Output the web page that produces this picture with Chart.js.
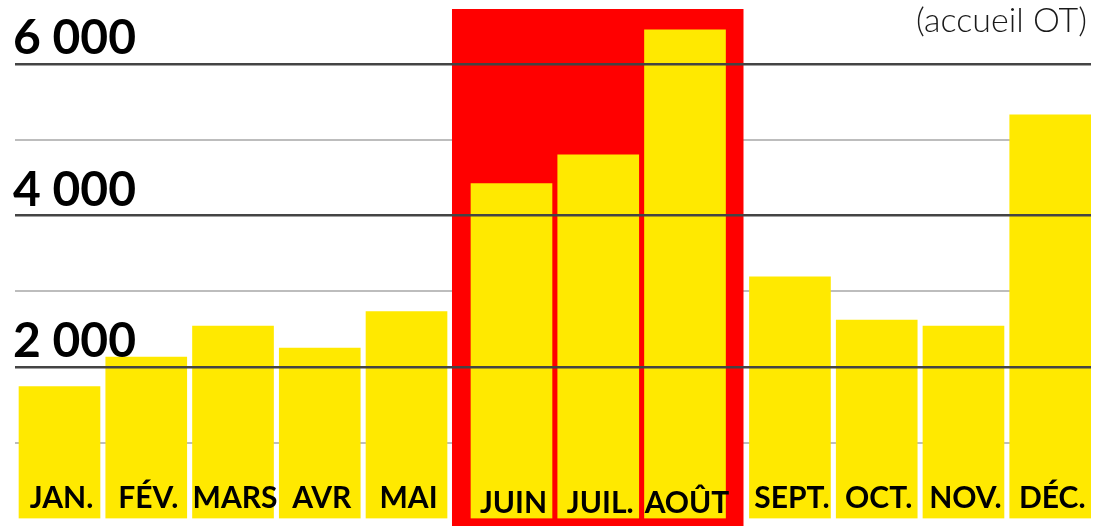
<!DOCTYPE html>
<html>
<head>
<meta charset="utf-8">
<script src="https://cdn.jsdelivr.net/npm/chart.js@4/dist/chart.umd.min.js"></script>
<style>
  html, body { margin: 0; padding: 0; background: #fff; }
  #wrap { width: 1101px; height: 526px; position: relative; }
</style>
</head>
<body>
<div id="wrap"><canvas id="graficoMois"></canvas></div>
<script>
const mois = ['JAN.', 'FÉV.', 'MARS', 'AVR', 'MAI', 'JUIN', 'JUIL.', 'AOÛT', 'SEPT.', 'OCT.', 'NOV.', 'DÉC.'];
const visiteurs = [1740, 2130, 2540, 2250, 2730, 4420, 4800, 6450, 3190, 2620, 2540, 5330];
const ticksY = [2000, 4000, 6000];
const moisEte = ['JUIN', 'JUIL.', 'AOÛT'];

// small extra gap before and after the summer block
const posX = mois.map((m, i) => i + (i >= 8 ? 0.42 : i >= 5 ? 0.21 : 0));
const points = mois.map((m, i) => ({ x: posX[i], y: visiteurs[i] }));

const fmt = v => String(v).replace(/\B(?=(\d{3})+(?!\d))/g, ' ');

const sansPadding = s => {
    s.width = 0;
    s.paddingTop = 0;
    s.paddingBottom = 0;
};

const blocEte = {
    id: 'blocEte',
    beforeDatasetsDraw(chart) {
        const meta = chart.getDatasetMeta(0);
        const first = meta.data[mois.indexOf(moisEte[0])];
        const last = meta.data[mois.indexOf(moisEte[moisEte.length - 1])];
        const left = first.x - first.width / 2 - 19;
        const right = last.x + last.width / 2 + 18;
        const ctx = chart.ctx;
        ctx.save();
        ctx.fillStyle = '#ff0000';
        ctx.fillRect(left, chart.chartArea.top, right - left, chart.height - chart.chartArea.top);
        ctx.restore();
    },
    afterDatasetsDraw(chart) {
        const meta = chart.getDatasetMeta(0);
        const ctx = chart.ctx;
        ctx.save();
        ctx.font = 'bold 30px Lato';
        ctx.fillStyle = '#000';
        ctx.textAlign = 'center';
        ctx.textBaseline = 'alphabetic';
        meta.data.forEach((bar, i) => {
            const y = moisEte.includes(mois[i]) ? 513 : 508;
            ctx.fillText(mois[i], bar.x + 2, y);
        });
        ctx.restore();
    },
    afterDraw(chart) {
        const ctx = chart.ctx;
        ctx.save();
        ctx.font = '300 34px Lato';
        ctx.fillStyle = '#1a1a1a';
        ctx.textAlign = 'right';
        ctx.textBaseline = 'alphabetic';
        ctx.fillText('(accueil OT)', 1087, 32);
        ctx.restore();
    }
};

new Chart(document.getElementById('graficoMois'), {
    type: 'bar',
    data: {
        datasets: [{
            data: points,
            backgroundColor: '#ffe900',
            barThickness: 81
        }]
    },
    options: {
        responsive: true,
        maintainAspectRatio: false,
        animation: false,
        layout: { padding: { top: 9, bottom: 7.5, left: 15, right: 10 } },
        plugins: {
            legend: { display: false },
            tooltip: { enabled: false }
        },
        scales: {
            x: {
                type: 'linear',
                min: -0.513,
                max: 11.89,
                offset: false,
                display: false
            },
            y: {
                min: 0,
                max: 6726,
                border: { display: false },
                grid: {
                    drawTicks: false,
                    lineWidth: 2,
                    color: c => {
                        const v = c.tick ? c.tick.value : 0;
                        return v > 0 && v % 1000 === 0 ? '#bdbdbd' : 'rgba(0,0,0,0)';
                    }
                },
                afterBuildTicks: s => {
                    const t = [];
                    for (let v = 1000; v <= s.max; v += 1000) t.push({ value: v });
                    s.ticks = t;
                },
                ticks: { display: false },
                afterFit: sansPadding
            },
            y2: {
                position: 'left',
                min: 0,
                max: 6726,
                border: { display: false },
                grid: {
                    z: 1,
                    drawTicks: false,
                    lineWidth: 2.5,
                    color: c => (ticksY.includes(c.tick.value) ? '#444' : 'rgba(0,0,0,0)')
                },
                afterBuildTicks: s => { s.ticks = ticksY.map(v => ({ value: v })); },
                ticks: {
                    z: 1,
                    mirror: true,
                    padding: -2,
                    labelOffset: -25,
                    color: '#000',
                    font: { family: 'Lato', weight: 'bold', size: 48 },
                    callback: v => fmt(v)
                },
                afterFit: sansPadding
            }
        }
    },
    plugins: [blocEte]
});
</script>
</body>
</html>
